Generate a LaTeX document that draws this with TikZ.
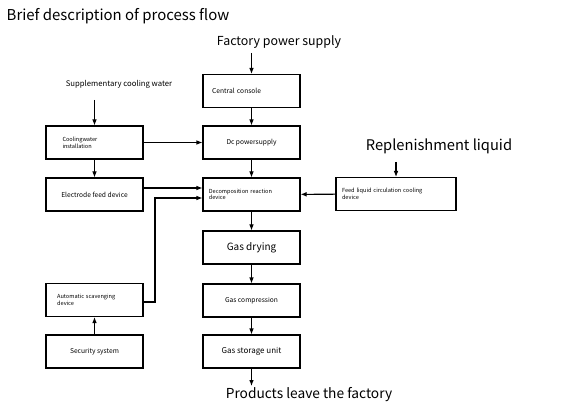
\documentclass[tikz,border=0pt]{standalone}
\usepackage{fontspec}
\setmainfont{Noto Sans CJK SC}
\usepackage{tikz}
\usetikzlibrary{arrows.meta}
\tikzset{>={Latex[width=3.5pt,length=4.5pt]}}
\tikzset{
  box/.style={draw, line width=0.8pt, minimum width=72.75pt, minimum height=24.75pt, inner sep=0pt},
  lbox/.style={box, text width=#1, align=left},
  flow/.style={->, line width=0.8pt},
}
\newcommand\boxtiny{\fontsize{4.2}{5}\selectfont}
\newcommand\boxsmall{\fontsize{5}{6}\selectfont}

\begin{document}
\begin{tikzpicture}[x=0.75pt,y=-0.75pt]
  \useasboundingbox (0,0) rectangle (577,409);

  % titles and free texts
  \node[anchor=west, font=\fontsize{11.2}{13}\selectfont] (title) at (2,16) {Brief description of process flow};
  \node[font=\fontsize{9.3}{11}\selectfont] (power) at (279,42) {Factory power supply};
  \node[font=\fontsize{5.8}{6}\selectfont] (supp) at (119,84) {Supplementary cooling water};
  \node[font=\fontsize{11}{13}\selectfont] (repl) at (439,146) {Replenishment liquid};
  \node[font=\fontsize{10.3}{12}\selectfont] (prod) at (309,395) {Products leave the factory};

  % centre column
  \node[lbox=59pt, font=\boxsmall] (cc) at (251.5,91) {Central console};
  \node[box, font=\boxsmall] (dc) at (251.5,142.5) {Dc powersupply};
  \node[lbox=64pt, font=\boxtiny] (dec) at (251.5,194.5) {Decomposition reaction\\device};
  \node[box, font=\fontsize{7.5}{9}\selectfont] (gd) at (251.5,247.5) {Gas drying};
  \node[box, font=\boxsmall] (gc) at (251.5,300.5) {Gas compression};
  \node[box, font=\fontsize{6}{7}\selectfont] (gs) at (251.5,351.5) {Gas storage unit};

  % left column
  \node[lbox=48pt, font=\boxtiny] (cw) at (94.5,142.5) {Coolingwater\\installation};
  \node[box, font=\boxsmall] (ef) at (94.5,194.5) {Electrode feed device};
  \node[lbox=56pt, font=\boxtiny] (asd) at (94.5,300) {Automatic scavenging\\device};
  \node[box, font=\boxsmall] (ss) at (94.5,351.5) {Security system};

  % right
  \node[box, minimum width=90pt, text width=81pt, align=left, font=\boxtiny] (fl) at (396,194) {Feed liquid circulation cooling\\device};

  \coordinate (pw) at (251.5,53);
  \coordinate (sw) at (94.5,100);
  \coordinate (rp) at (396,162);
  \coordinate (out) at (251.5,386);

  \draw[flow] (pw) -- (cc);
  \draw[flow] (cc) -- (dc);
  \draw[flow] (dc) -- (dec);
  \draw[flow] (dec) -- (gd);
  \draw[flow] (gd) -- (gc);
  \draw[flow] (gc) -- (gs);
  \draw[flow] (gs) -- (out);

  \draw[flow] (sw) -- (cw);
  \draw[flow] (cw) -- (ef);
  \draw[flow] (cw) -- (dc);
  \draw[flow] (ef.east |- 0,188) -- (dec.west |- 0,188);
  \draw[flow] (ss) -- (asd);
  \draw[flow] (asd.east |- 0,302) -| (155,198) -- (dec.west |- 0,198);

  \draw[flow] (rp) -- (fl);
  \draw[flow] (fl) -- (dec);
\end{tikzpicture}
\end{document}
